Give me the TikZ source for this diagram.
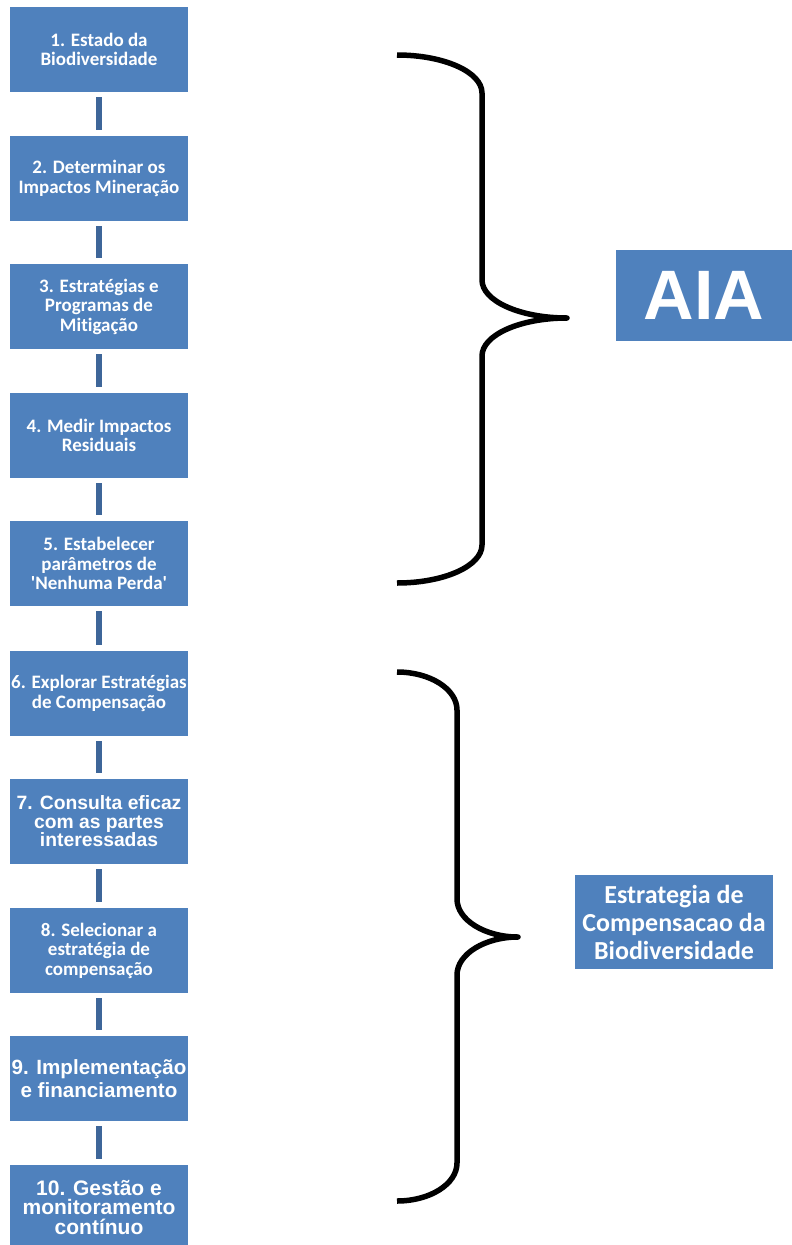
\documentclass[tikz,border=0pt]{standalone}
\usepackage{fontspec}
\usepackage{xcolor}
\newfontfamily\calibfont{Carlito}[Ligatures=NoCommon]
\newfontfamily\arialfont{Liberation Sans}[Ligatures=NoCommon]
\definecolor{boxblue}{HTML}{4F81BD}
\definecolor{barblue}{HTML}{3E6699}

\begin{document}
\begin{tikzpicture}[x=1pt,y=-1pt,
		etapa/.style={fill=boxblue, text=white, minimum width=178pt, minimum height=85pt, inner sep=0pt, align=center},
		calib/.style={font=\calibfont\bfseries\fontsize{19}{19.5}\selectfont},
		arialtxt/.style={font=\arialfont\bfseries\fontsize{19.3}{18.5}\selectfont},
		barra/.style={draw=barblue, line width=6pt, shorten <=5pt, shorten >=6pt},
		chave/.style={draw=black, line width=5.5pt, line join=round}]
		      		\useasboundingbox (0,0) rectangle (792,1245);

		      		\node[etapa, calib] (e1) at (99,49.5) {1. Estado da\\Biodiversidade};
		      		\node[etapa, calib] (e2) at (99,178.5) {2. Determinar os\\Impactos Mineração};
		      		\node[etapa, calib] (e3) at (99,306.5) {3. Estratégias e\\Programas de\\Mitigação};
		      		\node[etapa, calib] (e4) at (99,435.5) {4. Medir Impactos\\Residuais};
		      		\node[etapa, calib] (e5) at (99,563.5) {5. Estabelecer\\parâmetros de\\'Nenhuma Perda'};
		      		\node[etapa, calib] (e6) at (99,693.5) {6. Explorar Estratégias\\de Compensação};
		      		\node[etapa, arialtxt] (e7) at (99,821.5) {7. Consulta eficaz\\com as partes\\interessadas};
		      		\node[etapa, calib] (e8) at (99,950.5) {8. Selecionar a\\estratégia de\\compensação};
		      		\node[etapa, font=\arialfont\bfseries\fontsize{20.6}{22.5}\selectfont] (e9) at (99,1078.5) {9. Implementação\\e financiamento};
		      		\node[etapa, font=\arialfont\bfseries\fontsize{21}{19.5}\selectfont] (e10) at (99,1207.5) {10. Gestão e\\monitoramento\\contínuo};

		      		\draw[barra] (e1.south) -- (e2.north);
		      		\draw[barra] (e2.south) -- (e3.north);
		      		\draw[barra] (e3.south) -- (e4.north);
		      		\draw[barra] (e4.south) -- (e5.north);
		      		\draw[barra] (e5.south) -- (e6.north);
		      		\draw[barra] (e6.south) -- (e7.north);
		      		\draw[barra] (e7.south) -- (e8.north);
		      		\draw[barra] (e8.south) -- (e9.north);
		      		\draw[barra] (e9.south) -- (e10.north);

		      		\draw[chave] (397,55) .. controls (444,55) and (482,72) .. (482,93) -- (482,280) .. controls (482,301) and (520,318) .. (567,318) .. controls (520,318) and (482,335) .. (482,356) -- (482,545) .. controls (482,566) and (444,583) .. (397,583);
		      		\draw[chave] (397,672) .. controls (430,672) and (457,689) .. (457,710) -- (457,899) .. controls (457,920) and (485,937) .. (518,937) .. controls (485,937) and (457,954) .. (457,975) -- (457,1163) .. controls (457,1184) and (430,1201) .. (397,1201);

		      		\node[etapa, minimum width=176pt, minimum height=91pt, font=\arialfont\bfseries\fontsize{70}{70}\selectfont] (aia) at (704,295.5) {AIA};
		      		\node[etapa, minimum width=198pt, minimum height=94pt, font=\calibfont\bfseries\fontsize{26}{28}\selectfont] (comp) at (674,922) {Estrategia de\\Compensacao da\\Biodiversidade};
		      	\end{tikzpicture}
\end{document}
